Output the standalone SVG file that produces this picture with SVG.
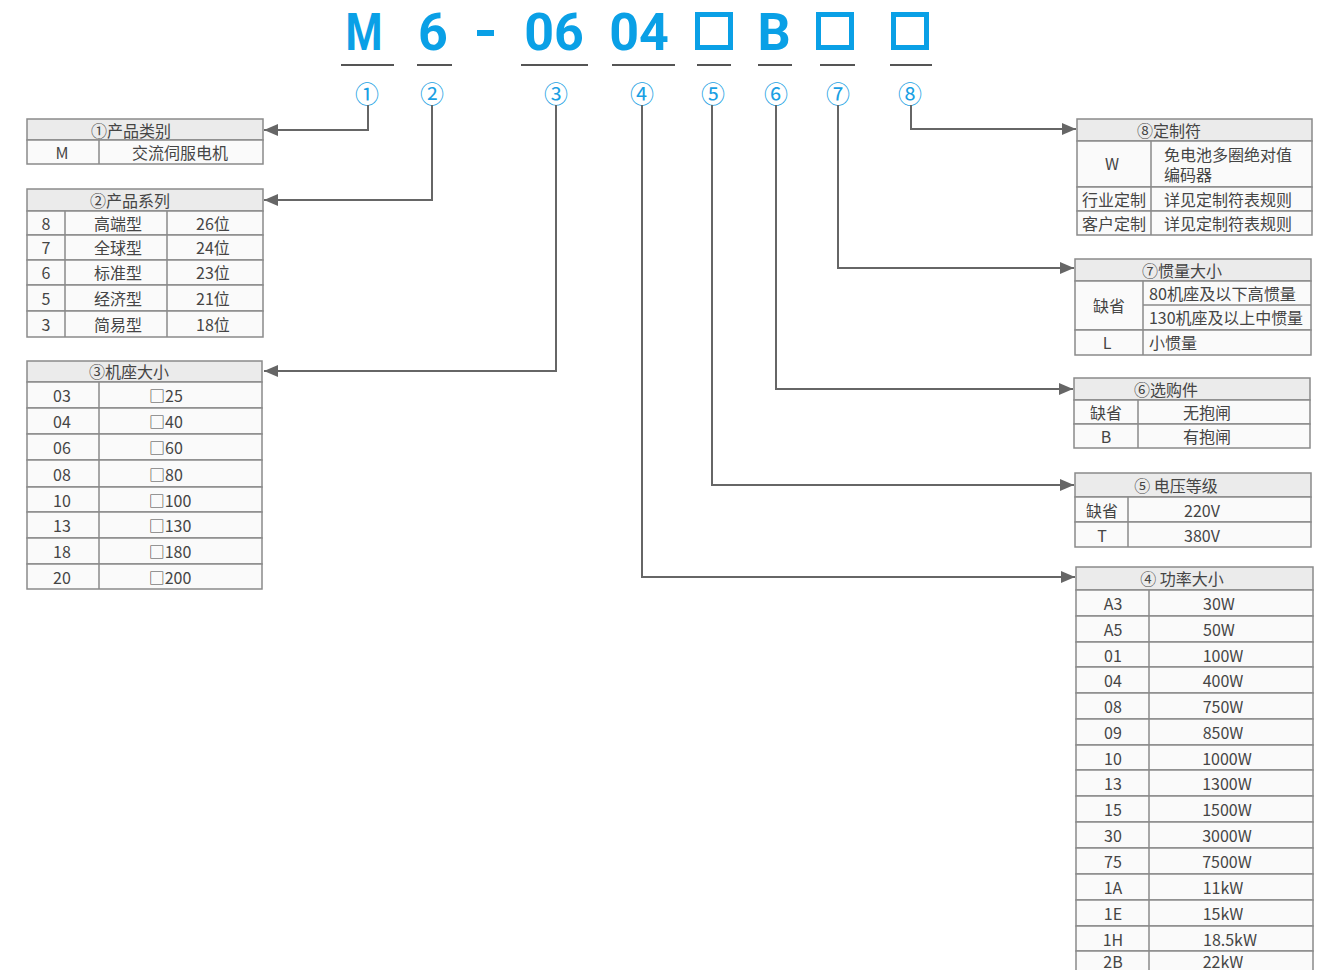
<svg xmlns="http://www.w3.org/2000/svg" width="1329" height="970" viewBox="0 0 1329 970">
<style>
.big{font-family:Roboto,"Liberation Sans",sans-serif;font-weight:bold;font-size:52px;fill:#0aa0e6;text-anchor:middle}
.sq{fill:none;stroke:#0aa0e6;stroke-width:5}
.ul{stroke:#555;stroke-width:2}
.num{font-family:"Noto Sans CJK SC","Noto Sans",sans-serif;font-size:24px;fill:#1a9fe3;text-anchor:middle;dominant-baseline:central}
.hd{fill:#ebebeb;stroke:#8a8a8a;stroke-width:1.5}
.cell{fill:#fafafa;stroke:#8a8a8a;stroke-width:1.5}
.ln{stroke:#8a8a8a;stroke-width:1.5}
.t{font-family:"Noto Sans CJK SC","Noto Sans",sans-serif;font-size:16px;fill:#454545;text-anchor:middle;dominant-baseline:central}
.tl{font-family:"Noto Sans CJK SC","Noto Sans",sans-serif;font-size:16px;fill:#454545;text-anchor:start;dominant-baseline:central}
.con{fill:none;stroke:#666;stroke-width:2;marker-end:url(#arr)}
</style>
<defs>
<marker id="arr" viewBox="0 0 14 12" refX="14" refY="6" markerWidth="14" markerHeight="12" markerUnits="userSpaceOnUse" orient="auto">
<path d="M0,0 L14,6 L0,12 z" fill="#666"/>
</marker>
</defs>
<rect width="1329" height="970" fill="#fff"/>

<g id="title">
<text class="big" x="364" y="50" textLength="37" lengthAdjust="spacingAndGlyphs">M</text>
<text class="big" x="433" y="50">6</text>
<rect x="477" y="30" width="17" height="6" fill="#0aa0e6"/>
<text class="big" x="554" y="50">06</text>
<text class="big" x="639" y="50">04</text>
<rect class="sq" x="697.5" y="14.5" width="33" height="33"/>
<text class="big" x="774" y="50">B</text>
<rect class="sq" x="818.5" y="14.5" width="33" height="33"/>
<rect class="sq" x="893.5" y="14.5" width="33" height="33"/>
<line class="ul" x1="341" y1="65" x2="394" y2="65"/>
<line class="ul" x1="417" y1="65" x2="452" y2="65"/>
<line class="ul" x1="521" y1="65" x2="588" y2="65"/>
<line class="ul" x1="612" y1="65" x2="675" y2="65"/>
<line class="ul" x1="697" y1="65" x2="731" y2="65"/>
<line class="ul" x1="758" y1="65" x2="792" y2="65"/>
<line class="ul" x1="820" y1="65" x2="855" y2="65"/>
<line class="ul" x1="890" y1="65" x2="932" y2="65"/>
<text class="num" x="367" y="92">①</text>
<text class="num" x="432" y="92">②</text>
<text class="num" x="556" y="92">③</text>
<text class="num" x="642" y="92">④</text>
<text class="num" x="713" y="92">⑤</text>
<text class="num" x="776" y="92">⑥</text>
<text class="num" x="838" y="92">⑦</text>
<text class="num" x="910" y="92">⑧</text>
</g>

<g id="connectors">
<path class="con" d="M368,105 V130 H264"/>
<path class="con" d="M432,105 V200 H264"/>
<path class="con" d="M556,105 V371 H264"/>
<path class="con" d="M642,105 V577 H1075"/>
<path class="con" d="M712,105 V485 H1074"/>
<path class="con" d="M776,105 V389 H1073"/>
<path class="con" d="M838,105 V268 H1074"/>
<path class="con" d="M911,105 V129 H1076"/>
</g>

<g id="table1">
<rect class="hd" x="27" y="119" width="236" height="21"/>
<rect class="cell" x="27" y="140" width="236" height="24"/>
<line class="ln" x1="99" y1="140" x2="99" y2="164"/>
<text class="t" x="131" y="129.5">①产品类别</text>
<text class="t" x="62" y="152">M</text>
<text class="t" x="180" y="152">交流伺服电机</text>
</g>

<g id="table2">
<rect class="hd" x="27" y="189" width="236" height="22"/>
<rect class="cell" x="27" y="211" width="236" height="24"/>
<rect class="cell" x="27" y="235" width="236" height="25"/>
<rect class="cell" x="27" y="260" width="236" height="25"/>
<rect class="cell" x="27" y="285" width="236" height="26"/>
<rect class="cell" x="27" y="311" width="236" height="26"/>
<line class="ln" x1="65" y1="211" x2="65" y2="337"/>
<line class="ln" x1="167" y1="211" x2="167" y2="337"/>
<text class="t" x="130" y="200">②产品系列</text>
<text class="t" x="46" y="222.5">8</text><text class="t" x="118" y="222.5">高端型</text><text class="t" x="213" y="222.5">26位</text>
<text class="t" x="46" y="247">7</text><text class="t" x="118" y="247">全球型</text><text class="t" x="213" y="247">24位</text>
<text class="t" x="46" y="272">6</text><text class="t" x="118" y="272">标准型</text><text class="t" x="213" y="272">23位</text>
<text class="t" x="46" y="297.5">5</text><text class="t" x="118" y="297.5">经济型</text><text class="t" x="213" y="297.5">21位</text>
<text class="t" x="46" y="323.5">3</text><text class="t" x="118" y="323.5">简易型</text><text class="t" x="213" y="323.5">18位</text>
</g>

<g id="table3">
<rect class="hd" x="27" y="361" width="235" height="21"/>
<rect class="cell" x="27" y="382" width="235" height="26"/>
<rect class="cell" x="27" y="408" width="235" height="26"/>
<rect class="cell" x="27" y="434" width="235" height="26"/>
<rect class="cell" x="27" y="460" width="235" height="27"/>
<rect class="cell" x="27" y="487" width="235" height="25"/>
<rect class="cell" x="27" y="512" width="235" height="26"/>
<rect class="cell" x="27" y="538" width="235" height="26"/>
<rect class="cell" x="27" y="564" width="235" height="25"/>
<line class="ln" x1="99" y1="382" x2="99" y2="589"/>
<text class="t" x="129" y="371">③机座大小</text>
<text class="t" x="62" y="395">03</text><text class="t" x="166" y="395">□25</text>
<text class="t" x="62" y="421">04</text><text class="t" x="166" y="421">□40</text>
<text class="t" x="62" y="447">06</text><text class="t" x="166" y="447">□60</text>
<text class="t" x="62" y="473.5">08</text><text class="t" x="166" y="473.5">□80</text>
<text class="t" x="62" y="499.5">10</text><text class="t" x="170" y="499.5">□100</text>
<text class="t" x="62" y="525">13</text><text class="t" x="170" y="525">□130</text>
<text class="t" x="62" y="551">18</text><text class="t" x="170" y="551">□180</text>
<text class="t" x="62" y="576.5">20</text><text class="t" x="170" y="576.5">□200</text>
</g>

<g id="table8">
<rect class="hd" x="1077" y="119" width="235" height="22"/>
<rect class="cell" x="1077" y="141" width="235" height="46"/>
<rect class="cell" x="1077" y="187" width="235" height="24"/>
<rect class="cell" x="1077" y="211" width="235" height="24"/>
<line class="ln" x1="1151" y1="141" x2="1151" y2="235"/>
<text class="t" x="1169" y="129.5">⑧定制符</text>
<text class="t" x="1112" y="163">W</text>
<text class="tl" x="1164" y="153.5">免电池多圈绝对值<tspan x="1164" dy="20.5">编码器</tspan></text>
<text class="t" x="1114" y="198.5">行业定制</text><text class="tl" x="1164" y="198.5">详见定制符表规则</text>
<text class="t" x="1114" y="222.5">客户定制</text><text class="tl" x="1164" y="222.5">详见定制符表规则</text>
</g>

<g id="table7">
<rect class="hd" x="1075" y="259" width="236" height="22"/>
<rect class="cell" x="1075" y="281" width="236" height="49"/>
<rect class="cell" x="1075" y="330" width="236" height="25"/>
<line class="ln" x1="1143" y1="305" x2="1311" y2="305"/>
<line class="ln" x1="1143" y1="281" x2="1143" y2="355"/>
<text class="t" x="1182" y="270">⑦惯量大小</text>
<text class="t" x="1109" y="305">缺省</text>
<text class="tl" x="1149" y="292.5" textLength="147" lengthAdjust="spacingAndGlyphs">80机座及以下高惯量</text>
<text class="tl" x="1149" y="317" textLength="154" lengthAdjust="spacingAndGlyphs">130机座及以上中惯量</text>
<text class="t" x="1107" y="341.5">L</text>
<text class="tl" x="1149" y="342">小惯量</text>
</g>

<g id="table6">
<rect class="hd" x="1074" y="378" width="236" height="22"/>
<rect class="cell" x="1074" y="400" width="236" height="24"/>
<rect class="cell" x="1074" y="424" width="236" height="24"/>
<line class="ln" x1="1138" y1="400" x2="1138" y2="448"/>
<text class="t" x="1166" y="388.5">⑥选购件</text>
<text class="t" x="1106" y="411.5">缺省</text><text class="t" x="1207" y="411.5">无抱闸</text>
<text class="t" x="1106" y="436">B</text><text class="t" x="1207" y="436">有抱闸</text>
</g>

<g id="table5">
<rect class="hd" x="1075" y="473" width="236" height="24"/>
<rect class="cell" x="1075" y="497" width="236" height="25"/>
<rect class="cell" x="1075" y="522" width="236" height="25"/>
<line class="ln" x1="1128" y1="497" x2="1128" y2="547"/>
<text class="t" x="1176" y="484.5">⑤ 电压等级</text>
<text class="t" x="1102" y="510">缺省</text><text class="t" x="1202" y="510">220V</text>
<text class="t" x="1102" y="534.5">T</text><text class="t" x="1202" y="534.5">380V</text>
</g>

<g id="table4">
<rect class="hd" x="1076" y="567" width="237" height="23"/>
<rect class="cell" x="1076" y="590" width="237" height="26"/>
<rect class="cell" x="1076" y="616" width="237" height="26"/>
<rect class="cell" x="1076" y="642" width="237" height="25"/>
<rect class="cell" x="1076" y="667" width="237" height="26"/>
<rect class="cell" x="1076" y="693" width="237" height="26"/>
<rect class="cell" x="1076" y="719" width="237" height="26"/>
<rect class="cell" x="1076" y="745" width="237" height="25"/>
<rect class="cell" x="1076" y="770" width="237" height="26"/>
<rect class="cell" x="1076" y="796" width="237" height="26"/>
<rect class="cell" x="1076" y="822" width="237" height="26"/>
<rect class="cell" x="1076" y="848" width="237" height="26"/>
<rect class="cell" x="1076" y="874" width="237" height="26"/>
<rect class="cell" x="1076" y="900" width="237" height="26"/>
<rect class="cell" x="1076" y="926" width="237" height="25"/>
<rect class="cell" x="1076" y="951" width="237" height="26"/>
<line class="ln" x1="1149" y1="590" x2="1149" y2="977"/>
<text class="t" x="1182" y="578">④ 功率大小</text>
<text class="t" x="1113" y="603">A3</text><text class="t" x="1219" y="603">30W</text>
<text class="t" x="1113" y="629">A5</text><text class="t" x="1219" y="629">50W</text>
<text class="t" x="1113" y="654.5">01</text><text class="t" x="1223" y="654.5">100W</text>
<text class="t" x="1113" y="680">04</text><text class="t" x="1223" y="680">400W</text>
<text class="t" x="1113" y="706">08</text><text class="t" x="1223" y="706">750W</text>
<text class="t" x="1113" y="732">09</text><text class="t" x="1223" y="732">850W</text>
<text class="t" x="1113" y="757.5">10</text><text class="t" x="1227" y="757.5">1000W</text>
<text class="t" x="1113" y="783">13</text><text class="t" x="1227" y="783">1300W</text>
<text class="t" x="1113" y="809">15</text><text class="t" x="1227" y="809">1500W</text>
<text class="t" x="1113" y="835">30</text><text class="t" x="1227" y="835">3000W</text>
<text class="t" x="1113" y="861">75</text><text class="t" x="1227" y="861">7500W</text>
<text class="t" x="1113" y="887">1A</text><text class="t" x="1223" y="887">11kW</text>
<text class="t" x="1113" y="913">1E</text><text class="t" x="1223" y="913">15kW</text>
<text class="t" x="1113" y="938.5">1H</text><text class="t" x="1230" y="938.5">18.5kW</text>
<text class="t" x="1113" y="961">2B</text><text class="t" x="1223" y="961">22kW</text>
</g>
</svg>
